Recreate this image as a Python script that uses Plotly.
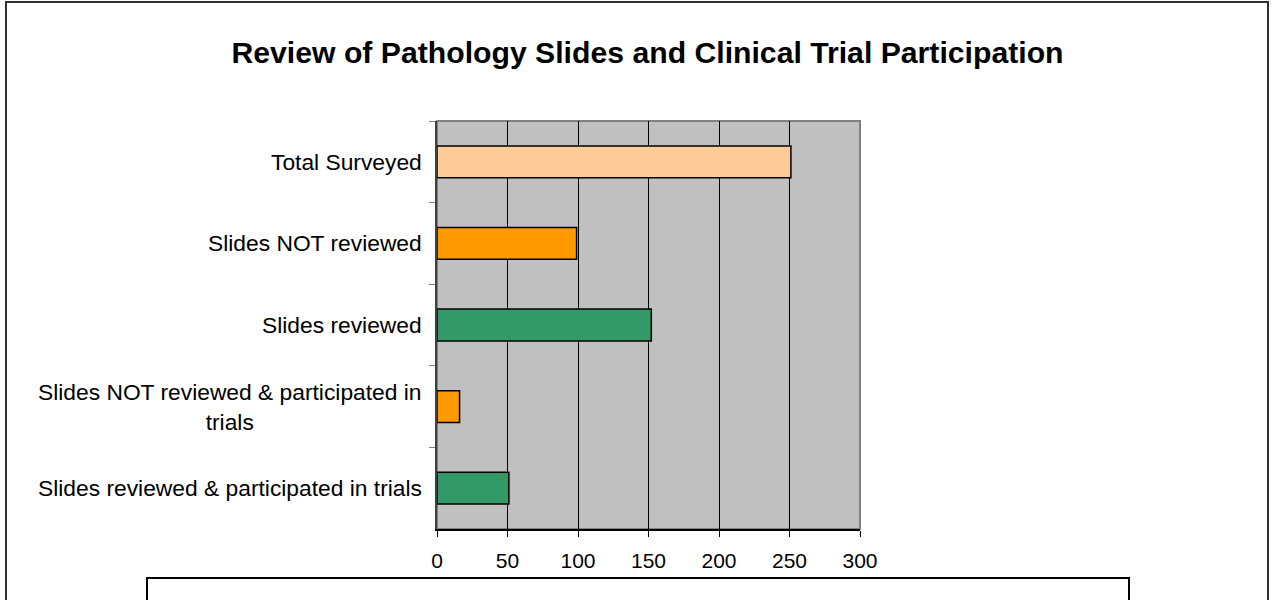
import plotly.graph_objects as go

categories = [
    "Total Surveyed",
    "Slides NOT reviewed",
    "Slides reviewed",
    "Slides NOT reviewed & participated in<br>trials",
    "Slides reviewed & participated in trials",
]
values = [251, 99, 152, 16, 51]
bar_colors = ["#FFCC99", "#FF9900", "#339966", "#FF9900", "#339966"]
x_ticks = [0, 50, 100, 150, 200, 250, 300]

W, H = 1272, 600
L, R, T, B = 437, 1272 - 860, 121, 600 - 529
PW, PH = W - L - R, H - T - B


def px(xp):
    return (xp - L) / PW


def py(yp):
    return 1 - (yp - T) / PH


fig = go.Figure()
fig.add_trace(go.Bar(
    y=categories, x=values, orientation="h",
    marker=dict(color=bar_colors, line=dict(color="black", width=1.5)),
    width=0.39, hoverinfo="skip",
))

font = "Liberation Sans, Arial, sans-serif"

annotations = [
    dict(text=c, x=px(424), y=c, xref="paper", yref="y", xanchor="right",
         yanchor="middle", align="center", showarrow=False,
         font=dict(family=font, size=22.8, color="black"))
    for c in categories
]

shapes = [
    # plot area border (gray)
    dict(type="rect", xref="paper", yref="paper", x0=0, x1=1, y0=0, y1=1,
         line=dict(color="#808080", width=2), layer="below"),
    # outer frame
    dict(type="rect", xref="paper", yref="paper", x0=px(6), x1=px(1268),
         y0=py(640), y1=py(2), line=dict(color="#303030", width=2)),
    # bottom box
    dict(type="rect", xref="paper", yref="paper", x0=px(147), x1=px(1129),
         y0=py(640), y1=py(578), line=dict(color="black", width=2)),
]

fig.update_layout(
    width=W, height=H,
    margin=dict(l=L, r=R, t=T, b=B, pad=0),
    paper_bgcolor="white", plot_bgcolor="#C0C0C0",
    showlegend=False,
    title=dict(text="<b>Review of Pathology Slides and Clinical Trial Participation</b>",
               x=px(647.5), xref="paper", xanchor="center",
               y=1 - 52 / H, yanchor="middle",
               font=dict(family=font, size=30.2, color="black")),
    font=dict(family=font, color="black"),
    annotations=annotations,
    shapes=shapes,
    xaxis=dict(range=[0, 300], tickvals=x_ticks, ticktext=[str(v) for v in x_ticks],
               showgrid=True, gridcolor="black", gridwidth=1,
               showline=True, linecolor="black", linewidth=1.5,
               ticks="outside", ticklen=6, tickcolor="black", tickwidth=1,
               ticklabelstandoff=6,
               tickfont=dict(family=font, size=21, color="black"),
               zeroline=False, fixedrange=True),
    yaxis=dict(categoryorder="array", categoryarray=categories,
               autorange="reversed", showticklabels=False,
               ticks="outside", tickson="boundaries", ticklen=6,
               tickcolor="#808080", tickwidth=1,
               showline=True, linecolor="#404040", linewidth=1.5,
               showgrid=False, zeroline=False, fixedrange=True),
)

fig.write_html("out.html", config={"displayModeBar": False},
               post_script="document.body.style.margin='0';")
